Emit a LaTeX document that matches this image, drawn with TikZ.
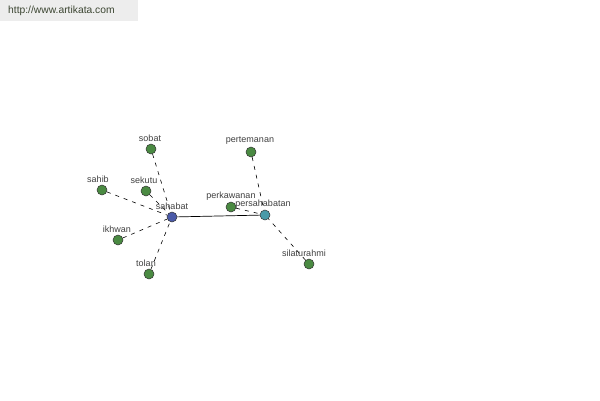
\documentclass[tikz,border=0pt]{standalone}
\usepackage{fontspec}
\setmainfont{Liberation Sans}
\begin{document}
\begin{tikzpicture}[x=1pt,y=-1pt,
  dot/.style={circle,draw=black!80,line width=0.5pt,minimum size=10pt,inner sep=0pt},
  gdot/.style={dot,fill={rgb,255:red,74;green,138;blue,66}},
  lbl/.style={font=\fontsize{9}{10}\selectfont,text=black!75,inner sep=0pt},
  dedge/.style={draw=black,line width=0.6pt,dash pattern=on 4pt off 5pt},
  sedge/.style={draw=black,line width=0.7pt}]
\useasboundingbox (0,0) rectangle (600,400);
\fill[white] (0,0) rectangle (600,400);
\fill[black!7] (0,0) rectangle (138,21);
\node[font=\fontsize{10.3}{12}\selectfont,text={rgb,255:red,60;green,70;blue,50},anchor=west,inner sep=0pt] (url) at (8,11) {http://www.artikata.com};
% nodes
\node[dot,fill={rgb,255:red,74;green,90;blue,168}] (sahabat) at (172,217) {};
\node[dot,fill={rgb,255:red,74;green,154;blue,168}] (persahabatan) at (265,215) {};
\node[gdot] (sobat) at (151,149) {};
\node[gdot] (sekutu) at (146,191) {};
\node[gdot] (sahib) at (102,190) {};
\node[gdot] (ikhwan) at (118,240) {};
\node[gdot] (tolan) at (149,274) {};
\node[gdot] (pertemanan) at (251,152) {};
\node[gdot] (perkawanan) at (231,207) {};
\node[gdot] (silaturahmi) at (309,264) {};
% edges
\draw[dedge] (sobat) -- (sahabat);
\draw[dedge] (sekutu) -- (sahabat);
\draw[dedge] (sahib) -- (sahabat);
\draw[dedge] (ikhwan) -- (sahabat);
\draw[dedge] (tolan) -- (sahabat);
\draw[dedge] (pertemanan) -- (persahabatan);
\draw[dedge] (perkawanan) -- (persahabatan);
\draw[dedge] (silaturahmi) -- (persahabatan);
\draw[sedge] (sahabat) -- (persahabatan);
% labels
\node[lbl] (lsahabat) at (172,206) {sahabat};
\node[lbl] (lpersahabatan) at (263,204) {persahabatan};
\node[lbl] (lsobat) at (150,138) {sobat};
\node[lbl] (lsekutu) at (144,180) {sekutu};
\node[lbl] (lsahib) at (98,179) {sahib};
\node[lbl] (likhwan) at (117,229) {ikhwan};
\node[lbl] (ltolan) at (146,263) {tolan};
\node[lbl] (lpertemanan) at (250,141) {pertemanan};
\node[lbl] (lperkawanan) at (231,196) {perkawanan};
\node[lbl] (lsilaturahmi) at (304,253) {silaturahmi};
\end{tikzpicture}
\end{document}
